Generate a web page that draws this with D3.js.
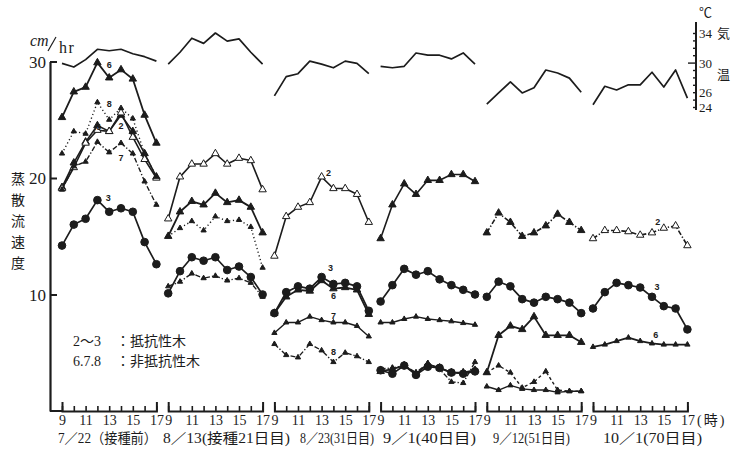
<!DOCTYPE html>
<html>
<head>
<meta charset="utf-8">
<script src="https://cdn.jsdelivr.net/npm/d3@7"></script>
<style>
  body { margin: 0; background: #fff; }
  svg { display: block; }
</style>
</head>
<body>
<svg id="chart" width="739" height="452"></svg>
<script>
// ── Data ───────────────────────────────────────────────────────────────────

var hours      = [9, 10, 11, 12, 13, 14, 15, 16, 17];
var hourLabels = [9, 11, 13, 15, 17];
var dateLabels = ['7／22（接種前）', '8／13(接種21日目)', '8／23(31日目)',
                  '9／1(40日目)', '9／12(51日目)', '10／1(70日目)'];
var leftTicks  = [10, 20, 30];
var tempTicks  = [24, 26, 30, 34];

// air temperature (°C), one row per observation day
var tempC = [
  [29.9, 29.4, 30.4, 31.8, 31.6, 31.8, 31.2, 30.8, 30.2],
  [29.8, 31.4, 33.3, 32.6, 34.0, 32.9, 33.2, 31.4, 29.8],
  [25.5, 28.1, 28.5, 30.2, 29.8, 29.3, 30.2, 29.9, 28.5],
  [29.5, 29.3, 29.5, 31.3, 31.0, 31.0, 30.5, 31.3, 29.8],
  [24.4, 25.9, 27.4, 25.9, 26.6, 29.0, 28.6, 27.9, 26.0],
  [24.3, 26.8, 26.3, 27.0, 27.0, 28.7, 26.7, 29.0, 25.2]
];

// sap flow velocity (cm/hr) per tree, one row per observation day
var tree2 = [
  [19.2, 21.3, 23.1, 24.5, 24.0, 25.4, 24.0, 22.1, 20.1],
  [16.5, 20.1, 21.2, 21.2, 22.1, 21.2, 21.7, 21.5, 19.0],
  [13.3, 16.7, 17.5, 17.9, 20.1, 19.1, 19.1, 18.6, 16.2],
  [14.8, 17.7, 19.5, 18.6, 19.8, 19.8, 20.3, 20.3, 19.7],
  [15.3, 17.0, 16.2, 15.0, 15.3, 15.9, 16.9, 16.2, 15.5],
  [14.8, 15.5, 15.5, 15.4, 15.1, 15.3, 15.7, 15.9, 14.2]
];
var tree3 = [
  [14.2, 16.0, 16.5, 18.1, 17.1, 17.4, 17.1, 14.5, 12.6],
  [10.1, 12.0, 13.2, 12.9, 13.2, 12.1, 12.4, 11.5, 10.0],
  [8.4, 10.2, 10.7, 10.5, 11.5, 10.9, 11.0, 10.7, 8.6],
  [9.4, 10.8, 12.2, 11.7, 12.0, 11.3, 10.8, 10.4, 10.0],
  [9.8, 11.1, 10.7, 9.6, 9.3, 9.8, 9.6, 9.3, 8.4],
  [8.8, 10.2, 11.0, 10.8, 10.6, 9.8, 9.0, 8.8, 7.0]
];
var tree4 = [
  [19.1, 20.9, 23.0, 24.1, 24.0, 25.6, 23.5, 21.6, 20.0],
  null,
  null,
  [3.5, 3.2, 3.9, 3.1, 3.8, 3.7, 3.3, 3.2, 3.4],
  null,
  null
];
var tree6 = [
  [25.2, 27.4, 27.8, 29.9, 28.6, 29.3, 28.5, 25.4, 23.0],
  [15.0, 17.1, 18.0, 17.7, 18.7, 17.9, 18.1, 17.5, 15.3],
  [8.4, 9.8, 10.4, 10.3, 11.2, 10.5, 10.6, 10.4, 8.3],
  [3.4, 3.6, 3.9, 3.2, 4.0, 3.7, 3.3, 3.3, 3.5],
  [3.3, 6.5, 7.3, 7.0, 8.1, 6.5, 6.5, 6.5, 5.9],
  [5.5, 5.7, 6.0, 6.3, 6.0, 5.8, 5.7, 5.7, 5.7]
];
var tree7 = [
  [19.0, 21.0, 21.4, 23.1, 22.2, 23.0, 22.1, 19.7, 17.7],
  [10.7, 11.1, 11.8, 11.4, 11.6, 11.2, 11.4, 11.0, 9.8],
  [6.7, 7.6, 7.6, 8.1, 7.8, 7.6, 7.6, 7.3, 6.4],
  [7.6, 7.6, 7.9, 8.1, 7.9, 7.8, 7.7, 7.55, 7.4],
  [2.1, 1.8, 2.2, 1.9, 1.8, 1.8, 1.6, 1.7, 1.7],
  null
];
var tree8 = [
  [22.1, 24.0, 23.8, 26.5, 25.0, 26.0, 25.1, 22.1, 20.1],
  [15.0, 15.7, 16.3, 15.5, 16.7, 16.3, 16.4, 15.8, 12.3],
  [5.75, 4.8, 4.6, 5.75, 5.2, 4.2, 5.0, 4.7, 4.2],
  [3.6, 3.7, 3.9, 3.3, 4.1, 3.6, 2.5, 2.4, 4.2],
  [3.3, 3.9, 3.3, 2.0, 2.5, 3.4, 1.8, 1.7, 1.7],
  null
];

// ── Styles ─────────────────────────────────────────────────────────────────

var INK = '#1c1c1c';
var SERIF = '"Liberation Serif", "DejaVu Serif", serif';
var GOTHIC = '"Noto Sans CJK JP", sans-serif';
var MIXED = '"Liberation Serif", "Noto Sans CJK JP", serif';

var dashes = { solid: null, dot: '1.2,2.6', dashdot: '5,2,1.3,2', dash: '3,2.5' };

var series = [
  { name: '2', values: tree2, width: 1.6,
    line:   ['solid', 'solid', 'solid', 'solid', 'dashdot', 'dashdot'],
    marker: ['tri', 'triOpen', 'triOpen', 'tri', 'tri', 'triOpen'] },
  { name: '4', values: tree4, width: 1.6,
    line:   ['solid', null, null, 'solid', null, null],
    marker: ['triOpen', null, null, 'circle', null, null] },
  { name: '3', values: tree3, width: 1.7,
    line:   ['solid', 'solid', 'solid', 'solid', 'solid', 'solid'],
    marker: ['circle', 'circle', 'circle', 'circle', 'circle', 'circle'] },
  { name: '6', values: tree6, width: 1.8,
    line:   ['solid', 'solid', 'solid', 'solid', 'solid', 'solid'],
    marker: ['tri', 'tri', 'tri', 'tri', 'tri', 'triSmall'] },
  { name: '7', values: tree7, width: 1.4,
    line:   ['dashdot', 'dashdot', 'solid', 'solid', 'solid', null],
    marker: ['triSmall', 'triSmall', 'triSmall', 'triSmall', 'triSmall', null] },
  { name: '8', values: tree8, width: 1.4,
    line:   ['dot', 'dot', 'dashdot', 'dashdot', 'dash', null],
    marker: ['triSmall', 'triSmall', 'triSmall', 'triSmall', 'triSmall', null] }
];

// series number tags: [text, series index, panel, hour, dx, dy]
var tags = [
  ['6', 3, 0, 13, 0, -13], ['8', 5, 0, 13, 0, -16], ['6', 1, 0, 12, 1, -3],
  ['2', 0, 0, 14, 0, 11],  ['7', 4, 0, 14, 0, 15],  ['3', 2, 0, 13, -1, -14],
  ['2', 0, 2, 13, 7, -4],  ['3', 2, 2, 13, 9, -9],  ['6', 3, 2, 14, 0, 7],
  ['7', 4, 2, 14, 0, -6],  ['8', 5, 2, 14, 0, -10],
  ['2', 0, 5, 15, -6, -6], ['3', 2, 5, 14, 5, -10], ['6', 3, 5, 15, -8, -10]
];

// ── Scales ─────────────────────────────────────────────────────────────────

var svg = d3.select('#chart');

var x  = d3.scaleLinear().domain([0, 53]).range([62, 687.4]);
var y  = d3.scaleLinear().domain([0, 30]).range([411, 61.5]);
var yT = d3.scaleLinear().domain([24, 34]).range([107, 33]);

function px(panel, hour) { return x(panel * 9 + hour - 9); }

// ── Axes ───────────────────────────────────────────────────────────────────

// left axis (sap flow)
var gl = svg.append('g').attr('transform', 'translate(50,0)')
  .call(d3.axisRight(y).tickValues(leftTicks).tickSize(7).tickSizeOuter(0).tickFormat(''));
gl.select('.domain').attr('stroke', INK).attr('stroke-width', 2.2);
gl.selectAll('.tick line').attr('stroke', INK).attr('stroke-width', 2);

svg.append('g').selectAll('text')
  .data(leftTicks)
  .join('text')
  .attr('x', 46).attr('y', function(d) { return y(d) + 6; })
  .attr('text-anchor', 'end')
  .attr('font-family', SERIF).attr('font-size', 17)
  .attr('fill', INK)
  .text(function(d) { return d; });

// unit
svg.append('text').attr('x', 30).attr('y', 46)
  .attr('font-family', SERIF).attr('font-style', 'italic').attr('font-size', 16)
  .attr('fill', INK).text('cm');
svg.append('line').attr('x1', 48).attr('y1', 51).attr('x2', 56).attr('y2', 37)
  .attr('stroke', INK).attr('stroke-width', 1.2);
svg.append('text').attr('x', 59).attr('y', 53)
  .attr('font-family', SERIF).attr('font-size', 16).attr('letter-spacing', 1.5)
  .attr('fill', INK).text('hr');

// vertical title
svg.append('g').selectAll('text')
  .data('蒸散流速度'.split(''))
  .join('text')
  .attr('x', 18).attr('y', function(d, i) { return 184 + i * 21; })
  .attr('text-anchor', 'middle')
  .attr('font-family', GOTHIC).attr('font-size', 14)
  .attr('fill', INK)
  .text(function(d) { return d; });

// right axis (air temperature)
var gr = svg.append('g').attr('transform', 'translate(696,0)')
  .call(d3.axisLeft(yT).tickValues(d3.range(24, 35)).tickSize(3).tickSizeOuter(0).tickFormat(''));
gr.select('.domain').remove();
gr.append('line').attr('x1', 0).attr('x2', 0)
  .attr('y1', yT(35.5)).attr('y2', yT(23.6))
  .attr('stroke', INK).attr('stroke-width', 2);
gr.selectAll('.tick line').attr('stroke', INK).attr('stroke-width', 1.4)
  .attr('x2', function(d) { return d === 30 ? -8 : -3; });

svg.append('g').selectAll('text')
  .data(tempTicks)
  .join('text')
  .attr('x', 699).attr('y', function(d) { return yT(d) + 5; })
  .attr('font-family', SERIF).attr('font-size', 13)
  .attr('fill', INK)
  .text(function(d) { return d; });

svg.append('text').attr('x', 699).attr('y', 17)
  .attr('font-family', GOTHIC).attr('font-size', 13)
  .attr('fill', INK).text('℃');
svg.append('text').attr('x', 717).attr('y', 38)
  .attr('font-family', GOTHIC).attr('font-size', 13)
  .attr('fill', INK).text('気');
svg.append('text').attr('x', 717).attr('y', 79)
  .attr('font-family', GOTHIC).attr('font-size', 13)
  .attr('fill', INK).text('温');

// bottom brackets, one per day
var dateStart = [58, 163, 300, 383, 493, 603];
var dateWidth = [99, 127, 74, 93, 77, 99];

dateLabels.forEach(function(label, p) {
  var xp = d3.scaleLinear().domain([9, 17]).range([px(p, 9), px(p, 17)]);
  var gb = svg.append('g').attr('transform', 'translate(0,411)')
    .call(d3.axisTop(xp).tickValues(hours).tickSize(5).tickSizeOuter(9).tickFormat(''));
  gb.select('.domain').attr('stroke', INK).attr('stroke-width', 2);
  gb.selectAll('.tick line').attr('stroke', INK).attr('stroke-width', 1.6);
  if (p === 0) {
    gb.append('line').attr('x1', 50).attr('x2', px(0, 9)).attr('y1', 0).attr('y2', 0)
      .attr('stroke', INK).attr('stroke-width', 2);
  }

  var gt = svg.append('g').attr('transform', 'translate(0,411)')
    .call(d3.axisBottom(xp).tickValues(hourLabels).tickSize(0).tickPadding(4));
  gt.select('.domain').remove();
  gt.selectAll('text').attr('font-family', SERIF).attr('font-size', 14).attr('fill', INK);

  svg.append('text')
    .attr('x', dateStart[p]).attr('y', 443)
    .attr('font-family', MIXED).attr('font-size', 14)
    .attr('textLength', dateWidth[p]).attr('lengthAdjust', 'spacingAndGlyphs')
    .attr('fill', INK)
    .text(label);
});

svg.append('text').attr('x', 697).attr('y', 425)
  .attr('font-family', MIXED).attr('font-size', 14).attr('letter-spacing', 2)
  .attr('fill', INK).text('(時)');

// ── Lines ──────────────────────────────────────────────────────────────────

var plot = svg.append('g');

tempC.forEach(function(row, p) {
  var line = d3.line()
    .x(function(d, i) { return px(p, hours[i]); })
    .y(function(d) { return yT(d); });
  plot.append('path').datum(row)
    .attr('d', line)
    .attr('fill', 'none').attr('stroke', INK).attr('stroke-width', 1.7)
    .attr('stroke-linejoin', 'round');
});

var symbols = {
  tri:      { type: d3.symbolTriangle, size: 24, fill: INK },
  triOpen:  { type: d3.symbolTriangle, size: 24, fill: '#fff' },
  triSmall: { type: d3.symbolTriangle, size: 12, fill: INK },
  circle:   { type: d3.symbolCircle,   size: 46, fill: INK }
};

series.forEach(function(s) {
  s.values.forEach(function(row, p) {
    if (!row) return;
    var pts = row.map(function(v, i) { return { h: hours[i], v: v }; });
    var line = d3.line()
      .x(function(d) { return px(p, d.h); })
      .y(function(d) { return y(d.v); });
    plot.append('path').datum(pts)
      .attr('d', line)
      .attr('fill', 'none').attr('stroke', INK)
      .attr('stroke-width', s.width)
      .attr('stroke-dasharray', dashes[s.line[p]])
      .attr('stroke-linejoin', 'round');

    var sym = symbols[s.marker[p]];
    plot.append('g').selectAll('path')
      .data(pts)
      .join('path')
      .attr('transform', function(d) { return 'translate(' + px(p, d.h) + ',' + y(d.v) + ')'; })
      .attr('d', d3.symbol().type(sym.type).size(sym.size))
      .attr('fill', sym.fill).attr('stroke', INK).attr('stroke-width', 1);
  });
});

// tree number tags
svg.append('g').selectAll('text')
  .data(tags)
  .join('text')
  .attr('x', function(d) { return px(d[2], d[3]) + d[4]; })
  .attr('y', function(d) { return y(series[d[1]].values[d[2]][d[3] - 9]) + d[5]; })
  .attr('text-anchor', 'middle').attr('dominant-baseline', 'central')
  .attr('font-family', '"Liberation Sans", sans-serif').attr('font-weight', 'bold')
  .attr('font-size', 9).attr('fill', INK)
  .text(function(d) { return d[0]; });

// legend
var legend = svg.append('g')
  .attr('font-family', MIXED).attr('font-size', 14).attr('fill', INK);
var l1 = legend.append('text').attr('x', 73).attr('y', 346);
l1.append('tspan').text('2〜3');
l1.append('tspan').attr('x', 116).attr('font-family', GOTHIC).text('：抵抗性木');
var l2 = legend.append('text').attr('x', 73).attr('y', 366);
l2.append('tspan').text('6.7.8');
l2.append('tspan').attr('x', 116).attr('font-family', GOTHIC).text('：非抵抗性木');
</script>
</body>
</html>
